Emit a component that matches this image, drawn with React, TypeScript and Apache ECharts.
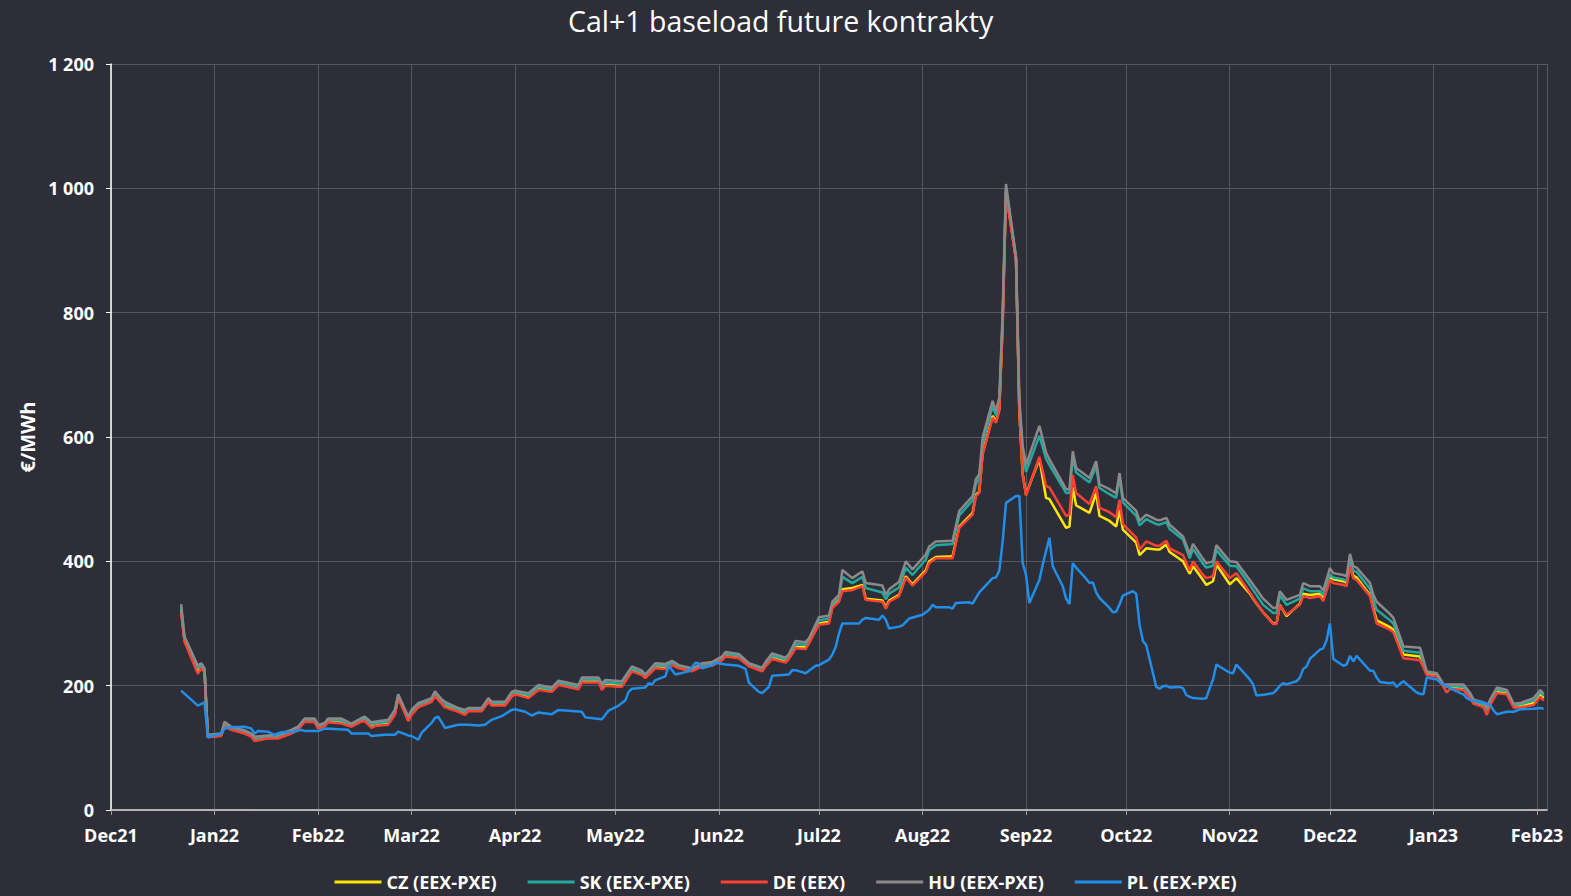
import React, { useEffect, useRef } from "react";
import * as echarts from "echarts";

const TITLE = "Cal+1 baseload future kontrakty";
const Y_NAME = "€/MWh";
const MONTHS = ["Jan", "Feb", "Mar", "Apr", "May", "Jun", "Jul", "Aug", "Sep", "Oct", "Nov", "Dec"];
const SERIES_NAMES = ["CZ (EEX-PXE)", "SK (EEX-PXE)", "DE (EEX)", "HU (EEX-PXE)", "PL (EEX-PXE)"];
const COLORS = ["#ffe600", "#22a89e", "#ff4133", "#8a8a8a", "#1f8fe9"];

const GROUP_DATES = [
  "2021-12-22", "2021-12-23", "2021-12-27", "2021-12-28", "2021-12-29", "2021-12-30", "2022-01-03", "2022-01-04", "2022-01-06", "2022-01-10",
  "2022-01-12", "2022-01-13", "2022-01-17", "2022-01-20", "2022-01-24", "2022-01-26", "2022-01-28", "2022-01-31", "2022-02-01", "2022-02-03",
  "2022-02-04", "2022-02-08", "2022-02-11", "2022-02-14", "2022-02-15", "2022-02-17", "2022-02-18", "2022-02-22", "2022-02-24", "2022-02-25",
  "2022-02-28", "2022-03-01", "2022-03-03", "2022-03-07", "2022-03-08", "2022-03-10", "2022-03-11", "2022-03-15", "2022-03-17", "2022-03-18",
  "2022-03-22", "2022-03-24", "2022-03-25", "2022-03-29", "2022-03-31", "2022-04-01", "2022-04-05", "2022-04-08", "2022-04-12", "2022-04-14",
  "2022-04-20", "2022-04-21", "2022-04-26", "2022-04-27", "2022-04-28", "2022-05-03", "2022-05-06", "2022-05-09", "2022-05-10", "2022-05-13",
  "2022-05-16", "2022-05-18", "2022-05-20", "2022-05-24", "2022-05-27", "2022-05-30", "2022-06-02", "2022-06-03", "2022-06-07", "2022-06-10",
  "2022-06-14", "2022-06-15", "2022-06-17", "2022-06-21", "2022-06-22", "2022-06-24", "2022-06-27", "2022-06-28", "2022-07-01", "2022-07-04",
  "2022-07-05", "2022-07-07", "2022-07-08", "2022-07-11", "2022-07-14", "2022-07-15", "2022-07-20", "2022-07-21", "2022-07-22", "2022-07-25",
  "2022-07-27", "2022-07-29", "2022-08-02", "2022-08-03", "2022-08-05", "2022-08-10", "2022-08-12", "2022-08-16", "2022-08-17", "2022-08-18",
  "2022-08-19", "2022-08-22", "2022-08-23", "2022-08-24", "2022-08-25", "2022-08-26", "2022-08-29", "2022-08-30", "2022-08-31", "2022-09-01",
  "2022-09-05", "2022-09-07", "2022-09-08", "2022-09-13", "2022-09-14", "2022-09-15", "2022-09-16", "2022-09-20", "2022-09-22", "2022-09-23",
  "2022-09-26", "2022-09-28", "2022-09-29", "2022-09-30", "2022-10-04", "2022-10-05", "2022-10-07", "2022-10-10", "2022-10-11", "2022-10-13",
  "2022-10-14", "2022-10-18", "2022-10-20", "2022-10-21", "2022-10-24", "2022-10-25", "2022-10-27", "2022-10-28", "2022-11-01", "2022-11-03",
  "2022-11-07", "2022-11-09", "2022-11-11", "2022-11-14", "2022-11-15", "2022-11-16", "2022-11-18", "2022-11-22", "2022-11-23", "2022-11-25",
  "2022-11-28", "2022-11-29", "2022-12-01", "2022-12-02", "2022-12-05", "2022-12-06", "2022-12-07", "2022-12-08", "2022-12-09", "2022-12-13",
  "2022-12-14", "2022-12-15", "2022-12-19", "2022-12-20", "2022-12-23", "2022-12-28", "2022-12-30", "2023-01-02", "2023-01-04", "2023-01-05",
  "2023-01-06", "2023-01-10", "2023-01-12", "2023-01-13", "2023-01-16", "2023-01-17", "2023-01-18", "2023-01-20", "2023-01-23", "2023-01-25",
  "2023-01-27", "2023-01-31", "2023-02-02", "2023-02-03",
];

const DE = [
  318, 271, 219, 228, 222, 117, 119, 135, 129, 123,
  118, 111, 115, 115, 123, 129, 142, 141, 131, 135,
  141, 139, 134, 142, 143, 132, 135, 137, 153, 180,
  143, 153, 165, 174, 183, 171, 165, 158, 153, 159,
  159, 174, 168, 168, 182, 186, 180, 193, 190, 201,
  194, 205, 205, 193, 200, 198, 223, 217, 212, 228,
  227, 233, 228, 223, 231, 232, 241, 247, 244, 231,
  223, 231, 243, 237, 243, 260, 259, 268, 298, 300,
  325, 335, 352, 354, 360, 338, 335, 324, 335, 344,
  374, 361, 383, 397, 405, 405, 454, 475, 505, 510,
  572, 631, 623, 642, 780, 991, 884, 640, 540, 506,
  568, 521, 519, 473, 475, 539, 510, 492, 521, 486,
  479, 471, 499, 460, 438, 419, 432, 425, 425, 433,
  421, 410, 385, 400, 378, 373, 376, 400, 373, 381,
  350, 333, 318, 299, 299, 329, 314, 330, 344, 341,
  344, 336, 370, 365, 362, 360, 392, 373, 370, 344,
  322, 300, 290, 286, 244, 241, 217, 215, 198, 189,
  195, 193, 180, 171, 165, 153, 169, 188, 186, 165,
  165, 169, 182, 176,
];

const CZ = [
  322, 274, 224, 230, 224, 118, 120, 137, 131, 125,
  120, 113, 117, 117, 125, 131, 144, 143, 133, 137,
  143, 142, 136, 144, 146, 135, 137, 139, 155, 182,
  145, 155, 167, 176, 185, 173, 167, 160, 155, 160,
  160, 175, 170, 170, 184, 188, 182, 195, 192, 203,
  196, 207, 207, 196, 202, 200, 225, 219, 214, 230,
  229, 235, 229, 224, 232, 234, 242, 249, 246, 233,
  224, 233, 245, 239, 245, 262, 262, 271, 300, 303,
  328, 338, 355, 357, 362, 340, 337, 326, 337, 346,
  376, 363, 386, 400, 407, 408, 456, 478, 507, 512,
  574, 634, 625, 645, 783, 995, 886, 640, 540, 508,
  565, 502, 500, 454, 456, 519, 490, 478, 510, 473,
  465, 456, 483, 451, 430, 410, 421, 419, 419, 427,
  415, 400, 380, 392, 370, 362, 368, 395, 363, 373,
  348, 332, 318, 300, 300, 330, 312, 332, 348, 346,
  348, 340, 376, 371, 368, 366, 395, 377, 374, 346,
  325, 305, 294, 290, 250, 247, 220, 217, 200, 199,
  197, 195, 182, 172, 167, 157, 171, 190, 188, 167,
  167, 172, 186, 180,
];

const SK = [
  326, 276, 228, 232, 225, 119, 121, 139, 132, 126,
  121, 115, 118, 119, 127, 132, 145, 145, 135, 138,
  145, 144, 137, 146, 148, 138, 139, 142, 158, 184,
  147, 158, 169, 178, 188, 175, 170, 162, 158, 162,
  162, 177, 172, 172, 186, 190, 185, 198, 194, 205,
  198, 210, 210, 199, 205, 203, 228, 221, 216, 233,
  232, 237, 231, 226, 234, 236, 244, 251, 248, 234,
  226, 235, 248, 242, 248, 267, 266, 273, 305, 308,
  331, 342, 375, 365, 375, 357, 350, 339, 348, 358,
  390, 378, 403, 418, 426, 428, 474, 498, 525, 532,
  590, 650, 635, 655, 792, 1000, 888, 652, 575, 544,
  602, 565, 555, 510, 510, 568, 543, 527, 553, 518,
  508, 502, 535, 495, 473, 458, 468, 460, 459, 463,
  452, 435, 405, 420, 396, 390, 393, 418, 393, 392,
  362, 346, 330, 317, 317, 345, 330, 340, 357, 352,
  352, 346, 379, 374, 371, 368, 400, 385, 383, 356,
  338, 322, 305, 300, 256, 253, 222, 219, 201, 200,
  200, 198, 185, 175, 170, 160, 174, 194, 191, 169,
  170, 176, 190, 184,
];

const HU = [
  331, 279, 232, 236, 228, 121, 123, 142, 134, 128,
  123, 118, 120, 121, 129, 134, 147, 147, 137, 140,
  147, 147, 139, 148, 150, 141, 142, 145, 161, 186,
  150, 161, 172, 180, 191, 178, 174, 164, 161, 164,
  164, 180, 174, 174, 190, 192, 188, 201, 197, 208,
  201, 213, 213, 203, 209, 207, 231, 224, 218, 236,
  235, 240, 233, 228, 236, 238, 247, 254, 251, 236,
  229, 238, 252, 245, 251, 272, 270, 276, 310, 313,
  335, 346, 386, 373, 384, 365, 361, 346, 355, 367,
  400, 387, 411, 424, 432, 433, 481, 505, 532, 540,
  599, 658, 642, 663, 800, 1007, 890, 660, 585, 555,
  618, 575, 564, 516, 516, 577, 550, 534, 561, 524,
  516, 509, 542, 502, 481, 465, 475, 467, 466, 470,
  459, 440, 412, 428, 404, 397, 400, 426, 400, 399,
  370, 355, 340, 325, 325, 352, 338, 346, 365, 360,
  360, 353, 389, 381, 378, 376, 412, 392, 390, 365,
  346, 335, 315, 309, 263, 261, 223, 220, 202, 202,
  202, 202, 188, 178, 173, 164, 178, 197, 193, 171,
  172, 180, 193, 187,
];

const PL: [string, number][] = [
  ["2021-12-22", 192], ["2021-12-27", 168], ["2021-12-29", 173], ["2021-12-30", 117], ["2022-01-03", 123],
  ["2022-01-04", 131], ["2022-01-06", 133], ["2022-01-10", 134], ["2022-01-12", 131], ["2022-01-13", 123],
  ["2022-01-14", 127], ["2022-01-17", 126], ["2022-01-19", 121], ["2022-01-21", 125], ["2022-01-25", 126],
  ["2022-01-27", 129], ["2022-01-28", 127], ["2022-02-01", 127], ["2022-02-03", 131], ["2022-02-10", 129],
  ["2022-02-11", 123], ["2022-02-16", 123], ["2022-02-17", 119], ["2022-02-21", 121], ["2022-02-24", 121],
  ["2022-02-25", 126], ["2022-02-28", 120], ["2022-03-01", 119], ["2022-03-03", 113], ["2022-03-04", 124],
  ["2022-03-07", 140], ["2022-03-08", 148], ["2022-03-09", 150], ["2022-03-11", 132], ["2022-03-15", 137],
  ["2022-03-18", 137], ["2022-03-21", 136], ["2022-03-23", 137], ["2022-03-25", 145], ["2022-03-28", 151],
  ["2022-03-31", 161], ["2022-04-01", 162], ["2022-04-04", 158], ["2022-04-06", 152], ["2022-04-08", 157],
  ["2022-04-12", 154], ["2022-04-14", 161], ["2022-04-21", 158], ["2022-04-22", 149], ["2022-04-25", 147],
  ["2022-04-27", 146], ["2022-04-29", 160], ["2022-05-02", 168], ["2022-05-04", 176], ["2022-05-05", 190],
  ["2022-05-06", 195], ["2022-05-10", 197], ["2022-05-11", 204], ["2022-05-12", 202], ["2022-05-13", 209],
  ["2022-05-16", 215], ["2022-05-17", 232], ["2022-05-19", 218], ["2022-05-23", 223], ["2022-05-25", 237],
  ["2022-05-26", 236], ["2022-05-27", 228], ["2022-05-30", 233], ["2022-05-31", 237], ["2022-06-03", 234],
  ["2022-06-07", 232], ["2022-06-09", 227], ["2022-06-10", 205], ["2022-06-13", 190], ["2022-06-14", 188],
  ["2022-06-16", 198], ["2022-06-17", 216], ["2022-06-20", 217], ["2022-06-22", 218], ["2022-06-23", 225],
  ["2022-06-24", 225], ["2022-06-27", 220], ["2022-06-30", 232], ["2022-07-01", 233], ["2022-07-04", 242],
  ["2022-07-05", 250], ["2022-07-06", 262], ["2022-07-07", 284], ["2022-07-08", 300], ["2022-07-13", 300],
  ["2022-07-14", 306], ["2022-07-15", 309], ["2022-07-19", 306], ["2022-07-20", 313], ["2022-07-21", 306],
  ["2022-07-22", 292], ["2022-07-25", 295], ["2022-07-26", 297], ["2022-07-28", 308], ["2022-08-01", 314],
  ["2022-08-03", 322], ["2022-08-04", 330], ["2022-08-05", 326], ["2022-08-09", 326], ["2022-08-10", 324],
  ["2022-08-11", 333], ["2022-08-15", 334], ["2022-08-16", 332], ["2022-08-18", 350], ["2022-08-22", 373],
  ["2022-08-23", 374], ["2022-08-24", 385], ["2022-08-25", 432], ["2022-08-26", 494], ["2022-08-29", 505],
  ["2022-08-30", 505], ["2022-08-31", 397], ["2022-09-01", 378], ["2022-09-02", 333], ["2022-09-05", 370],
  ["2022-09-06", 395], ["2022-09-08", 438], ["2022-09-09", 392], ["2022-09-12", 360], ["2022-09-13", 340],
  ["2022-09-14", 331], ["2022-09-15", 397], ["2022-09-16", 390], ["2022-09-19", 372], ["2022-09-20", 365],
  ["2022-09-21", 366], ["2022-09-22", 350], ["2022-09-23", 341], ["2022-09-26", 325], ["2022-09-27", 318],
  ["2022-09-28", 319], ["2022-09-29", 331], ["2022-09-30", 345], ["2022-10-03", 352], ["2022-10-04", 348],
  ["2022-10-05", 298], ["2022-10-06", 272], ["2022-10-07", 265], ["2022-10-10", 198], ["2022-10-11", 195],
  ["2022-10-12", 199], ["2022-10-13", 200], ["2022-10-14", 197], ["2022-10-17", 198], ["2022-10-18", 196],
  ["2022-10-19", 185], ["2022-10-20", 182], ["2022-10-21", 180], ["2022-10-24", 179], ["2022-10-25", 180],
  ["2022-10-26", 196], ["2022-10-27", 210], ["2022-10-28", 234], ["2022-10-31", 224], ["2022-11-01", 221],
  ["2022-11-02", 220], ["2022-11-03", 234], ["2022-11-04", 228], ["2022-11-07", 210], ["2022-11-08", 202],
  ["2022-11-09", 184], ["2022-11-10", 185], ["2022-11-11", 185], ["2022-11-14", 188], ["2022-11-15", 193],
  ["2022-11-16", 200], ["2022-11-17", 204], ["2022-11-18", 202], ["2022-11-21", 207], ["2022-11-22", 213],
  ["2022-11-23", 227], ["2022-11-24", 231], ["2022-11-25", 243], ["2022-11-28", 258], ["2022-11-29", 260],
  ["2022-11-30", 273], ["2022-12-01", 300], ["2022-12-02", 243], ["2022-12-05", 232], ["2022-12-06", 234],
  ["2022-12-07", 248], ["2022-12-08", 239], ["2022-12-09", 248], ["2022-12-12", 230], ["2022-12-13", 224],
  ["2022-12-14", 224], ["2022-12-15", 213], ["2022-12-16", 206], ["2022-12-19", 204], ["2022-12-20", 205],
  ["2022-12-21", 198], ["2022-12-22", 203], ["2022-12-23", 207], ["2022-12-27", 189], ["2022-12-28", 187],
  ["2022-12-29", 186], ["2022-12-30", 213], ["2023-01-02", 210], ["2023-01-03", 205], ["2023-01-04", 202],
  ["2023-01-06", 196], ["2023-01-09", 188], ["2023-01-10", 186], ["2023-01-11", 180], ["2023-01-12", 177],
  ["2023-01-16", 173], ["2023-01-18", 169], ["2023-01-19", 160], ["2023-01-20", 154], ["2023-01-23", 158],
  ["2023-01-25", 158], ["2023-01-27", 162], ["2023-01-31", 163], ["2023-02-02", 164], ["2023-02-03", 163],
];

const X_MIN = "2021-12-01";
const X_MAX = "2023-02-04";
const Y_MIN = 0;
const Y_MAX = 1200;
const Y_STEP = 200;

const FONT = "'Open Sans', 'Noto Sans', sans-serif";
const BG = "#2e2e38";
const GRID = "#56575f";

function fmtY(v: number): string {
  if (v >= 1000) {
    return `${Math.floor(v / 1000)} ${String(v % 1000).padStart(3, "0")}`;
  }
  return String(v);
}

function fmtX(v: number): string {
  const d = new Date(v);
  return MONTHS[d.getMonth()] + String(d.getFullYear()).slice(2);
}

export default function App() {
  const ref = useRef<HTMLDivElement>(null);

  useEffect(() => {
    if (!ref.current) return;
    const chart = echarts.init(ref.current, undefined, { renderer: "svg" });
    const groupValues = [CZ, SK, DE, HU];
    const series: any[] = groupValues.map((vals, k) => ({
      name: SERIES_NAMES[k],
      type: "line",
      symbol: "none",
      data: GROUP_DATES.map((d, i) => [d, vals[i]]),
      lineStyle: { color: COLORS[k], width: 2.5 },
      itemStyle: { color: COLORS[k] },
      z: 2 + k,
    }));
    series.push({
      name: SERIES_NAMES[4],
      type: "line",
      symbol: "none",
      data: PL,
      lineStyle: { color: COLORS[4], width: 2.5 },
      itemStyle: { color: COLORS[4] },
      z: 7,
    });

    chart.setOption({
      animation: false,
      backgroundColor: BG,
      title: {
        text: TITLE,
        left: 563,
        top: 1,
        textStyle: { color: "#ffffff", fontSize: 28.5, fontWeight: "normal", fontFamily: FONT },
      },
      legend: {
        bottom: 5,
        padding: 0,
        left: "center",
        icon: "rect",
        itemWidth: 47,
        itemHeight: 3,
        itemGap: 31,
        textStyle: { color: "#ffffff", fontSize: 18, fontWeight: "bold", fontFamily: FONT },
        data: SERIES_NAMES,
      },
      grid: { left: 111, right: 24, top: 64, bottom: 86, containLabel: false },
      xAxis: {
        type: "time",
        min: X_MIN,
        max: X_MAX,
        splitNumber: 14,
        minInterval: 28 * 86400000,
        maxInterval: 31 * 86400000,
        axisLine: { show: true, lineStyle: { color: "#d9d9d9", width: 1.5 } },
        axisTick: { show: true, length: 5, lineStyle: { color: "#9a9a9a" } },
        axisLabel: {
          color: "#ffffff",
          fontSize: 18,
          fontWeight: "bold",
          fontFamily: FONT,
          margin: 16,
          formatter: fmtX,
        },
        splitLine: { show: true, lineStyle: { color: GRID, width: 1 } },
      },
      yAxis: {
        type: "value",
        min: Y_MIN,
        max: Y_MAX,
        interval: Y_STEP,
        name: Y_NAME,
        nameLocation: "middle",
        nameGap: 74,
        nameTextStyle: { color: "#ffffff", fontSize: 20, fontWeight: "bold", fontFamily: FONT },
        axisLine: { show: true, lineStyle: { color: "#ffffff", width: 1.5 } },
        axisTick: { show: true, length: 5, lineStyle: { color: "#ffffff" } },
        axisLabel: {
          color: "#ffffff",
          fontSize: 18,
          fontWeight: "bold",
          fontFamily: FONT,
          margin: 17,
          formatter: fmtY,
        },
        splitLine: { show: true, lineStyle: { color: GRID, width: 1 } },
      },
      series,
    });

    return () => chart.dispose();
  }, []);

  return (
    <div
      ref={ref}
      style={{ position: "fixed", left: 0, top: 0, width: "1571px", height: "896px" }}
    />
  );
}
